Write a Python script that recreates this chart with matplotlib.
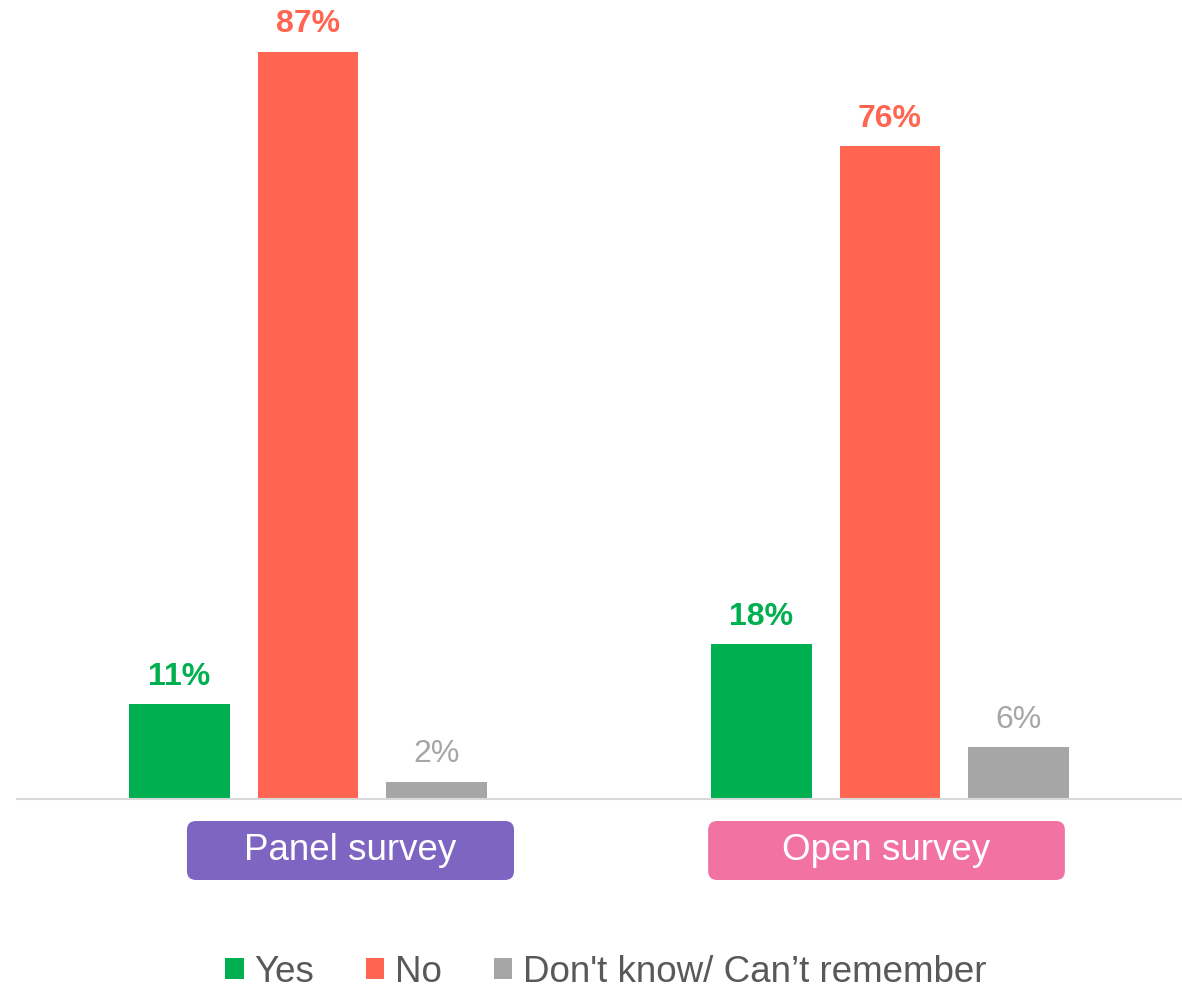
import matplotlib.pyplot as plt
from matplotlib.patches import FancyBboxPatch, Patch
from matplotlib.transforms import IdentityTransform

plt.rcParams['font.family'] = ['Liberation Sans', 'DejaVu Sans']

# data
groups = ["Panel survey", "Open survey"]
answers = ["Yes", "No", "Don't know/ Can\u2019t remember"]
yes_vals = [11, 18]
no_vals = [87, 76]
dk_vals = [2, 6]

colors = ["#00AF50", "#FF6551", "#A6A6A6"]
group_colors = ["#7E65C1", "#F273A2"]

fig = plt.figure(figsize=(11.82, 9.9), dpi=100)
ax = fig.add_axes([17 / 1182, 1 - 799 / 990, 1164 / 1182, 799 / 990])

width = 0.1735
step = 0.2216
xs = list(range(len(groups)))
series = [yes_vals, no_vals, dk_vals]

for i, (vals, col) in enumerate(zip(series, colors)):
    pos = [x + (i - 1) * step for x in xs]
    ax.bar(pos, vals, width=width, color=col, zorder=2)
    for p, v in zip(pos, vals):
        bold = i < 2
        ax.annotate(f"{v}%", (p, v), xytext=(0, 9), textcoords="offset points",
                    ha="center", va="bottom", fontsize=23,
                    fontweight="bold" if bold else "normal", color=col)

ax.set_xlim(-0.5, 1.5)
ax.set_ylim(0, 93)
for s in ["top", "right", "left"]:
    ax.spines[s].set_visible(False)
ax.spines["bottom"].set_color("#D9D9D9")
ax.spines["bottom"].set_linewidth(1.5)
ax.set_xticks([])
ax.set_yticks([])

# group label boxes (x in data units, y in pixels)
box_centers = [0.073, 0.994]
box_widths = [0.562, 0.613]
fig.canvas.draw()
H = 990
for name, cx, w, col in zip(groups, box_centers, box_widths, group_colors):
    x0 = ax.transData.transform((cx - w / 2, 0))[0]
    x1 = ax.transData.transform((cx + w / 2, 0))[0]
    y0 = H - 880
    y1 = H - 821
    r = 9
    box = FancyBboxPatch((x0 + r, y0 + r), x1 - x0 - 2 * r, y1 - y0 - 2 * r,
                         boxstyle=f"round,pad={r}", transform=IdentityTransform(),
                         facecolor=col, edgecolor="none")
    fig.patches.append(box)
    fig.text((x0 + x1) / 2 / 1182, (y0 + y1) / 2 / H, name, ha="center", va="center",
             color="white", fontsize=26.5)

handles = [Patch(facecolor=c, edgecolor="none") for c in colors]
leg = fig.legend(handles, answers, loc="center",
                 bbox_to_anchor=(0.5 + 15 / 1182, 1 - 972 / 990),
                 ncol=3, frameon=False, fontsize=26.5, handlelength=0.5, handleheight=0.5,
                 handletextpad=0.3, columnspacing=1.4, labelcolor="#595959",
                 borderpad=0.1)

fig.savefig("out.png", dpi=100)
